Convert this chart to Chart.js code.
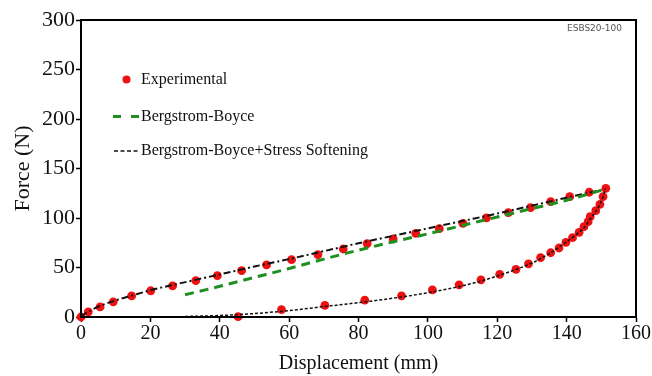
<!DOCTYPE html>
<html>
<head>
<meta charset="utf-8">
<script src="https://cdn.jsdelivr.net/npm/chart.js@4.4.0/dist/chart.umd.min.js"></script>
<style>
  html, body { margin: 0; padding: 0; background: #fff; }
  #box { width: 652px; height: 376px; }
</style>
</head>
<body>
<div id="box"><canvas id="myChart"></canvas></div>
<script>
// experimental points (loading then unloading)
const expX = [0, 2.1, 5.5, 9.3, 14.6, 20.1, 26.4, 33.1, 39.3, 46.3, 53.5, 60.7, 68.3, 75.6, 82.5, 90, 96.5, 103.3, 110.1, 116.9, 123.2, 129.6, 135.4, 140.9, 146.5, 151.3,
              150.5, 149.6, 148.4, 146.8, 146.2, 145, 143.6, 141.7, 139.8, 137.8, 135.4, 132.5, 129, 125.4, 120.7, 115.3, 109, 101.3, 92.4, 81.8, 70.3, 57.8, 45.3];
const expY = [0, 5.2, 10.2, 15.3, 21.3, 26.5, 31.4, 36.8, 41.7, 46.8, 52.6, 57.9, 62.9, 68.7, 74.2, 78.8, 84.5, 89.2, 94.6, 100.2, 105.4, 110.4, 116.5, 121.5, 126, 130,
              121.5, 113.8, 107.4, 101.3, 96.3, 91.2, 85.5, 80.1, 75.4, 69.7, 64.9, 59.9, 53.7, 48.2, 43.1, 37.6, 32.5, 27.5, 21.4, 17, 11.8, 7.5, 0.3];

// Bergstrom-Boyce
const bbX = [30, 40, 50, 60, 70, 80, 90, 100, 110, 120, 130, 140, 151];
const bbY = [22.5, 31, 40, 49, 58.5, 67.5, 76, 84, 92.5, 101, 109.5, 118, 129];

// Bergstrom-Boyce + Stress Softening, loading branch
const ssLoadX = [0, 1, 3, 5, 8, 12, 16, 20, 26, 33, 40, 50, 60, 70, 80, 90, 100, 110, 120, 130, 140, 151];
const ssLoadY = [0, 3, 7, 10.5, 14.5, 19, 23, 27, 32, 37.5, 43, 51, 58.5, 66.5, 74.5, 82, 89.5, 97, 104.5, 112.5, 120.5, 129];

// unloading branch
const ssUnX = [30, 40, 50, 60, 70, 80, 90, 100, 110, 115, 120, 125, 130, 135, 140, 143, 145, 147, 148.5, 149.6, 150.5, 151.2];
const ssUnY = [0.5, 1.5, 3.5, 6.5, 10.5, 14.5, 19, 24.5, 31.5, 36, 41.5, 47.5, 54.5, 64, 76, 84, 90, 100, 107, 114, 121.5, 130];

const xTicks = [0, 20, 40, 60, 80, 100, 120, 140, 160];
const yTicks = [0, 50, 100, 150, 200, 250, 300];

function pts(xs, ys) {
    return xs.map((x, i) => ({ x: x, y: ys[i] }));
}

const serif = '"Liberation Serif", "Times New Roman", serif';

// legend, frame and watermark drawn inside the plot
const extras = {
    id: 'extras',
    afterDraw(chart) {
        const ctx = chart.ctx;
        const a = chart.chartArea;
        ctx.save();
        ctx.strokeStyle = '#000';
        ctx.lineWidth = 2;
        ctx.strokeRect(a.left, a.top, a.right - a.left, a.bottom - a.top);

        ctx.fillStyle = '#555';
        ctx.font = '9px "DejaVu Sans", sans-serif';
        ctx.textAlign = 'right';
        ctx.textBaseline = 'middle';
        ctx.fillText('ESBS20-100', a.right - 14, a.top + 9);

        ctx.textAlign = 'left';
        ctx.font = '16px ' + serif;

        ctx.beginPath();
        ctx.fillStyle = '#ee1111';
        ctx.arc(126.5, 79.5, 4, 0, Math.PI * 2);
        ctx.fill();
        ctx.fillStyle = '#111';
        ctx.fillText('Experimental', 141, 80);

        ctx.strokeStyle = '#1f8f1f';
        ctx.lineWidth = 3;
        ctx.setLineDash([8, 10]);
        ctx.beginPath();
        ctx.moveTo(113, 116.5);
        ctx.lineTo(140, 116.5);
        ctx.stroke();
        ctx.fillText('Bergstrom-Boyce', 141, 116.5);

        ctx.strokeStyle = '#111';
        ctx.lineWidth = 1.5;
        ctx.setLineDash([4, 2.5]);
        ctx.beginPath();
        ctx.moveTo(114, 151);
        ctx.lineTo(140, 151);
        ctx.stroke();
        ctx.fillText('Bergstrom-Boyce+Stress Softening', 141, 151);
        ctx.restore();
    }
};

const ctx = document.getElementById('myChart');

new Chart(ctx, {
    type: 'scatter',
    data: {
        datasets: [
            {
                label: 'Bergstrom-Boyce',
                data: pts(bbX, bbY),
                showLine: true,
                borderColor: '#1f8f1f',
                borderWidth: 3,
                borderDash: [9, 6],
                pointRadius: 0,
                cubicInterpolationMode: 'monotone'
            },
            {
                label: 'Bergstrom-Boyce+Stress Softening',
                data: pts(ssLoadX, ssLoadY),
                showLine: true,
                borderColor: '#111',
                borderWidth: 2,
                borderDash: [7, 3, 2, 3],
                pointRadius: 0,
                cubicInterpolationMode: 'monotone'
            },
            {
                label: 'unloading',
                data: pts(ssUnX, ssUnY),
                showLine: true,
                borderColor: '#111',
                borderWidth: 1.5,
                borderDash: [3, 2],
                pointRadius: 0,
                cubicInterpolationMode: 'monotone'
            },
            {
                label: 'Experimental',
                data: pts(expX, expY),
                showLine: false,
                clip: false,
                backgroundColor: '#ee1111',
                borderColor: '#ee1111',
                pointRadius: 4.4,
                pointBorderWidth: 0
            }
        ]
    },
    options: {
        responsive: true,
        maintainAspectRatio: false,
        animation: false,
        layout: { padding: { top: 20, right: 16, left: 0, bottom: 0 } },
        plugins: {
            legend: { display: false },
            tooltip: { enabled: false }
        },
        scales: {
            x: {
                type: 'linear',
                min: 0,
                max: 160,
                afterBuildTicks: (s) => { s.ticks = xTicks.map(v => ({ value: v })); },
                afterFit: (s) => { s.height = 59; },
                ticks: { color: '#111', font: { family: serif, size: 20 }, padding: 0 },
                grid: { display: true, drawOnChartArea: false, color: '#000', tickLength: 5, tickWidth: 1.5 },
                border: { display: true, color: '#000', width: 2 },
                title: {
                    display: true,
                    text: 'Displacement (mm)',
                    color: '#111',
                    font: { family: serif, size: 20 },
                    padding: { top: 2, bottom: 0 }
                }
            },
            y: {
                type: 'linear',
                min: 0,
                max: 300,
                afterBuildTicks: (s) => { s.ticks = yTicks.map(v => ({ value: v })); },
                afterFit: (s) => { s.width = 81; },
                ticks: { color: '#111', font: { family: serif, size: 22 }, padding: 1 },
                grid: { display: true, drawOnChartArea: false, color: '#000', tickLength: 5, tickWidth: 1.5 },
                border: { display: true, color: '#000', width: 2 },
                title: {
                    display: true,
                    text: 'Force (N)',
                    color: '#111',
                    font: { family: serif, size: 22 },
                    padding: { top: 10, bottom: 0 }
                }
            }
        }
    },
    plugins: [extras]
});
</script>
</body>
</html>
